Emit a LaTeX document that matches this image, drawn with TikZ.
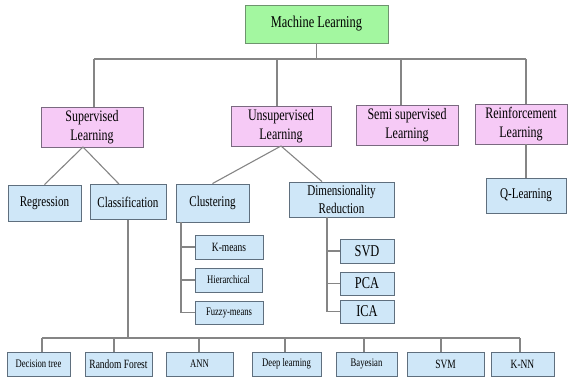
\documentclass[tikz,border=0pt]{standalone}
\usepackage{fontspec}
\setmainfont[FakeStretch=0.75]{Liberation Serif}
\usetikzlibrary{positioning}
\definecolor{mlgreen}{HTML}{A3F7A0}
\definecolor{mlgreenline}{HTML}{6E946E}
\definecolor{catpink}{HTML}{F6CAF6}
\definecolor{catpinkline}{HTML}{7A6A80}
\definecolor{itemblue}{HTML}{CFE7F8}
\definecolor{itemblueline}{HTML}{5F6F7E}
\definecolor{wire}{HTML}{858585}
\newcommand{\fs}[1]{\fontsize{#1}{#1}\selectfont}
\tikzset{
  basebox/.style={draw, rectangle, inner sep=0pt, line width=0.9pt, align=center, text=black},
  rootbox/.style={basebox, fill=mlgreen, draw=mlgreenline, font=\fs{16.5}},
  catbox/.style={basebox, fill=catpink, draw=catpinkline, font=\fontsize{16}{18.5}\selectfont},
  itembox/.style={basebox, fill=itemblue, draw=itemblueline, font=\fontsize{14.8}{17.5}\selectfont},
  smallbox/.style={basebox, fill=itemblue, draw=itemblueline, font=\fs{11.5}},
  wirestyle/.style={draw=wire, line width=1.1pt},
  sz/.style 2 args={minimum width=#1pt, minimum height=#2pt}
}
\begin{document}
\begin{tikzpicture}[x=1pt, y=-1pt]
\useasboundingbox (0,0) rectangle (574,377);

% root
\node[rootbox, sz={143}{38}] (ml) at (316.5,24) {Machine Learning};

% learning categories
\node[catbox, sz={102}{40}] (sup)   at (92,127)    {Supervised\\Learning};
\node[catbox, sz={100}{40}] (unsup) at (281,126)   {Unsupervised\\Learning};
\node[catbox, sz={102}{40}] (semi)  at (407,125)   {Semi supervised\\Learning};
\node[catbox, sz={92}{40}]  (rl)    at (521,124)   {Reinforcement\\Learning};

% second level
\node[itembox, sz={73}{36}] (reg)   at (44.5,203)  {Regression};
\node[itembox, sz={76}{35}] (cls)   at (128,202)   {Classification};
\node[itembox, sz={73}{38}] (clu)   at (212.5,203) {Clustering};
\node[itembox, sz={105}{35}] (dim)  at (341.5,199.5) {Dimensionality\\Reduction};
\node[itembox, sz={80}{35}] (ql)    at (526,195.5) {Q-Learning};

% clustering methods
\node[smallbox, sz={68}{24}, font=\fs{12.6}] (km) at (229,247) {K-means};
\node[smallbox, sz={67}{24}] (hier) at (228.5,280) {Hierarchical};
\node[smallbox, sz={68}{23}] (fuz)  at (229,312.5) {Fuzzy-means};

% dimensionality reduction methods
\node[itembox, sz={54}{24}, font=\fs{16.5}] (svd) at (367,251)   {SVD};
\node[itembox, sz={54}{23}, font=\fs{16.5}] (pca) at (367,283.5) {PCA};
\node[itembox, sz={54}{23}, font=\fs{16.5}] (ica) at (367,311.5) {ICA};

% classifiers
\node[smallbox, sz={63}{24}] (dt)  at (38.5,364)  {Decision tree};
\node[smallbox, sz={67}{24}, font=\fs{12.6}] (rf) at (118.5,364) {Random Forest};
\node[smallbox, sz={67}{24}] (ann) at (199.5,364) {ANN};
\node[smallbox, sz={69}{24}] (dl)  at (286.5,364) {Deep learning};
\node[smallbox, sz={61}{24}] (bay) at (366.5,364) {Bayesian};
\node[smallbox, sz={77}{24}, font=\fs{12.6}] (svm) at (445.5,364) {SVM};
\node[smallbox, sz={63}{24}, font=\fs{12.6}] (knn) at (522.5,364) {K-NN};

% top bus
\coordinate (busL) at (94,59);
\coordinate (busR) at (526,59);
\draw[wirestyle] (busL) -- (busR);
\draw[wirestyle] (ml.south) -- (ml.south |- busL);
\draw[wirestyle] (busL) -- (busL |- sup.north);
\draw[wirestyle] ([xshift=-4pt]unsup.north) -- ([xshift=-4pt]unsup.north |- busL);
\draw[wirestyle] ([xshift=-6pt]semi.north) -- ([xshift=-6pt]semi.north |- busL);
\draw[wirestyle] (busR) -- (busR |- rl.north);

% category to sub-category
\coordinate (supA) at (83,147);
\draw[wirestyle] (supA) -- (reg.north);
\draw[wirestyle] (supA) -- ([xshift=-9pt]cls.north);
\coordinate (unsA) at (281,146);
\draw[wirestyle] (unsA) -- (clu.north);
\draw[wirestyle] (unsA) -- ([xshift=-19.5pt]dim.north);
\draw[wirestyle] (rl.south -| ql.north) -- (ql.north);

% clustering tree
\coordinate (cluT) at (181,222);
\draw[wirestyle] (cluT) -- (cluT |- fuz.west) -- (fuz.west);
\draw[wirestyle] (cluT |- km.west) -- (km.west);
\draw[wirestyle] (cluT |- hier.west) -- (hier.west);

% dimensionality reduction tree
\coordinate (dimT) at (327,217);
\draw[wirestyle] (dimT) -- (dimT |- ica.west) -- (ica.west);
\draw[wirestyle] (dimT |- svd.west) -- (svd.west);
\draw[wirestyle] (dimT |- pca.west) -- (pca.west);

% classifier bus
\coordinate (cbusL) at (42,338);
\coordinate (cbusR) at (520,338);
\draw[wirestyle] (cls.south) -- (cls.south |- cbusL);
\draw[wirestyle] (cbusL) -- (cbusR);
\foreach \n/\dx in {dt/3.5, rf/-4.5, ann/-0.5, dl/-1.5, bay/-2.5, svm/-4.5, knn/-2.5} {
  \draw[wirestyle] ([xshift=\dx pt]\n.north) -- ([xshift=\dx pt]\n.north |- cbusL);
}
\end{tikzpicture}
\end{document}
